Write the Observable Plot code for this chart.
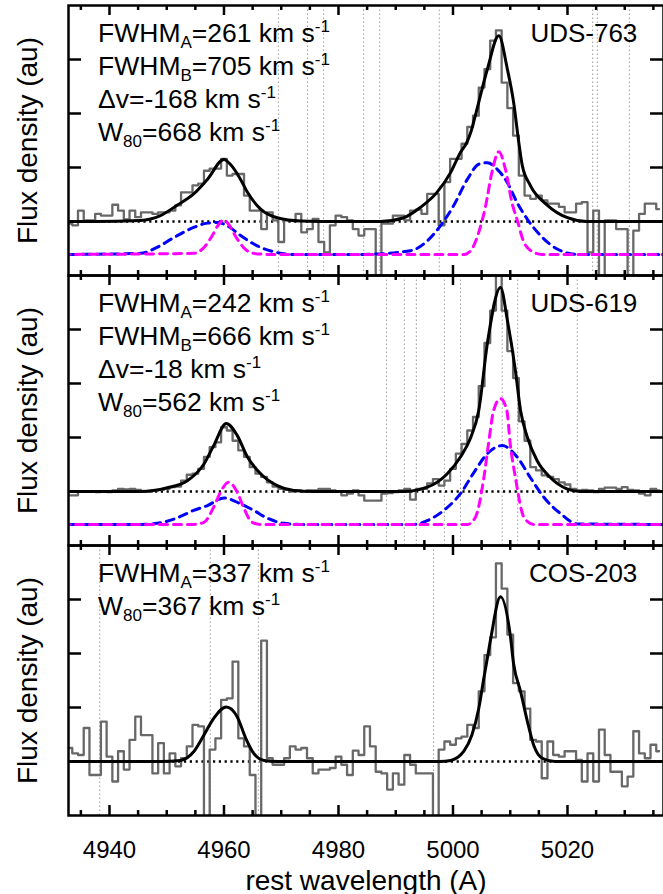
<!DOCTYPE html>
<html><head><meta charset="utf-8">
<script src="https://cdn.jsdelivr.net/npm/d3@7"></script>
<script src="https://cdn.jsdelivr.net/npm/@observablehq/plot@0.6"></script>
<style>body{margin:0;background:#fff}#chart svg{display:block}</style>
</head><body><div id="chart"></div>
<script>
const panels = ["UDS-763", "UDS-619", "COS-203"];

// rest-frame wavelength of spectral bins (Å)
const wave = [4933,4934,4935,4936,4937,4938,4939,4940,4941,4942,4943,4944,4945,4946,4947,4948,4949,4950,4951,4952,4953,4954,4955,4956,4957,4958,4959,4960,4961,4962,4963,4964,4965,4966,4967,4968,4969,4970,4971,4972,4973,4974,4975,4976,4977,4978,4979,4980,4981,4982,4983,4984,4985,4986,4987,4988,4989,4990,4991,4992,4993,4994,4995,4996,4997,4998,4999,5000,5001,5002,5003,5004,5005,5006,5007,5008,5009,5010,5011,5012,5013,5014,5015,5016,5017,5018,5019,5020,5021,5022,5023,5024,5025,5026,5027,5028,5029,5030,5031,5032,5033,5034,5035,5036];

const fluxUDS763 = [-0.04,-0.07,0.20,0.02,0.02,0.14,0.11,0.11,0.31,0.20,0.04,0.20,0.08,0.17,0.17,0.14,0.17,0.17,0.20,0.30,0.54,0.54,0.67,0.70,0.94,0.98,0.98,1.16,0.85,0.88,0.88,0.48,0.20,0.20,-0.14,0.17,0.02,-0.38,0.02,0.02,0.14,-0.20,-0.14,0.05,-0.38,-0.57,-0.07,0.11,0.08,0.02,-0.14,-0.26,-0.14,-0.14,-1.1,-0.04,-0.04,0.11,0.11,0.02,0.20,0.22,0.14,0.51,0.51,-0.07,0.73,1.16,1.16,1.44,1.75,1.96,2.48,2.82,3.35,3.54,2.57,2.10,1.59,0.85,0.48,0.42,0.48,0.39,0.33,0.33,0.27,0.17,0.17,0.33,0.36,-0.57,0.20,-1.1,0.02,0.02,-0.14,-0.14,-1.1,-0.17,0.14,0.33,0.33,0.23];

const fluxUDS619 = [-0.07,-0.07,0,0,0,-0.01,0,-0.01,0.02,0.05,0.04,0.05,0.03,0,0,0.02,0.03,0.05,0.08,0.09,0.20,0.31,0.33,0.42,0.64,0.82,0.91,1.19,1.13,0.94,0.76,0.64,0.45,0.33,0.27,0.17,0.09,0.05,0.03,0,0.02,0,0.02,0.02,0.05,0.05,0.02,0,-0.07,-0.04,0.02,-0.07,-0.17,-0.17,-0.17,-0.04,-0.03,-0.01,0.02,0.05,-0.15,0.05,0.05,0.15,0.23,0.11,0.20,0.42,0.70,0.88,1.13,1.38,1.95,2.75,3.35,4.0,3.35,2.60,2.10,1.30,0.94,0.45,0.39,0.30,0.27,0.23,0.17,0.13,0.05,0.02,0.03,0.02,-0.01,0.05,0.07,0.07,0.05,0.08,0.03,0.02,-0.04,-0.07,0.05,0.02];

const fluxCOS203 = [0.25,0.15,0.12,0.62,-0.25,-0.25,0.74,0.09,-0.37,0.19,-0.15,0.40,0.83,0.49,0.49,-0.22,0.34,-0.22,0.15,-0.09,0.06,0.28,0.68,0.65,-1.2,0.22,0.43,1.14,1.17,1.85,0.43,0.28,-0.25,-1.2,2.24,0.06,-0.06,-0.06,0.06,0.28,0.22,0.25,0.06,-0.22,-0.15,-0.15,-0.12,0.09,-0.06,-0.25,0.20,0.12,0.65,0.28,-0.19,-0.22,-0.52,-0.22,-0.43,0.12,-0.06,-0.22,-0.22,-0.22,-1.2,0.22,0.37,0.31,0.43,0.46,0.68,0.62,1.30,1.97,2.30,3.67,3.20,2.35,1.45,1.30,0.98,0.40,0.37,-0.31,0.37,0.12,0.09,0.19,0.19,0.03,-0.37,0.15,-0.37,0.59,0.12,-0.19,-0.19,-0.46,-0.28,0.56,0.15,0.06,0.31,0.19];

// total fits (black)
const fitWave763 = [4932.84,4937.2,4945.4,4948.9,4951.8,4954.7,4957.1,4960.0,4961.1,4962.9,4964.1,4966.4,4969.3,4973.4,4980,4987.3,4991.4,4994.3,4997.2,4999.6,5001.3,5002.4,5003.1,5003.9,5006.0,5008.0,5009.5,5010.6,5011.5,5012.1,5013.5,5016.5,5020.0,5023.4,5036.77];
const fitFlux763 = [0,0,0.02,0.11,0.30,0.51,0.78,1.15,1.06,0.78,0.54,0.23,0.07,0.01,0,0,0.07,0.26,0.54,0.91,1.28,1.46,1.65,1.96,2.82,3.44,2.82,2.20,1.46,1.04,0.67,0.30,0.07,0,0];
const fitWave619 = [4932.84,4945.4,4950.1,4953.6,4956.5,4958.2,4960.4,4962.3,4964.1,4966.4,4969.3,4972.2,4975.6,4991.4,4995.5,4999.0,5001.3,5003.1,5004.5,5006.0,5008.3,5009.5,5010.9,5011.8,5013.0,5014.7,5017.0,5019.9,5022.3,5036.77];
const fitFlux619 = [0,0,0.07,0.20,0.51,0.85,1.26,1.04,0.64,0.33,0.11,0.02,0,0,0.08,0.33,0.64,1.0,1.5,2.74,3.78,3.17,2.24,1.5,1.0,0.57,0.26,0.05,0,0];
const fitWave203 = [4932.84,4948.9,4952.4,4954.7,4956.5,4958.2,4960.4,4962.3,4963.8,4965.2,4967.0,4969.3,4997.7,4999.6,5001.9,5003.3,5004.5,5005.4,5006.0,5006.6,5008.3,5010.0,5010.6,5011.8,5013.0,5014.1,5015.6,5017.8,5036.77];
const fitFlux203 = [0,0,0.02,0.18,0.49,0.80,1.01,0.83,0.43,0.15,0.02,0,0,0.02,0.19,0.49,0.98,1.55,1.91,2.28,3.05,2.34,1.80,1.30,0.74,0.30,0.06,0,0];

// broad components B (blue, offset below zero)
const broadWave763 = [4932.84,4945.4,4948.3,4951.2,4954.7,4957.1,4958.8,4960.6,4962.9,4965.8,4968.7,4972.2,4983.8,4992.6,4995.5,4997.8,5000.1,5002.5,5004.5,5006.0,5007.7,5009.5,5011.2,5013.0,5015.3,5018.2,5021.7,5036.77];
const broadFlux763 = [-0.61,-0.59,-0.48,-0.30,-0.11,-0.03,-0.02,-0.08,-0.26,-0.45,-0.56,-0.61,-0.61,-0.54,-0.36,-0.08,0.29,0.78,1.06,1.09,0.97,0.72,0.35,0.04,-0.26,-0.51,-0.61,-0.61];
const broadWave619 = [4932.84,4945.4,4948.3,4951.8,4954.7,4957.1,4960.0,4962.9,4965.2,4967.5,4970.4,4973.3,4993.2,4995.5,4998.4,5001.3,5003.7,5006.0,5008.6,5011.2,5013.5,5015.9,5018.8,5021.7,5036.77];
const broadFlux619 = [-0.61,-0.61,-0.59,-0.49,-0.35,-0.26,-0.12,-0.23,-0.35,-0.49,-0.59,-0.61,-0.61,-0.54,-0.35,-0.04,0.36,0.70,0.85,0.64,0.26,-0.11,-0.41,-0.60,-0.61];

// narrow components A (magenta, offset below zero)
const narrowWave763 = [4932.84,4954.7,4956.5,4957.9,4959.1,4960.0,4960.8,4962.0,4963.4,4965.2,4968.1,5002.0,5003.1,5004.5,5005.7,5006.8,5008.0,5009.2,5010.3,5011.3,5012.4,5014.1,5015.5,5036.77];
const narrowFlux763 = [-0.61,-0.59,-0.48,-0.27,-0.05,0.03,-0.05,-0.27,-0.48,-0.59,-0.61,-0.61,-0.54,-0.20,0.29,0.91,1.29,0.95,0.35,0.0,-0.39,-0.57,-0.61,-0.61];
const narrowWave619 = [4932.84,4954.7,4956.5,4958.2,4959.4,4960.8,4962.3,4963.4,4964.9,4966.4,5002.5,5003.9,5005.4,5006.2,5007.1,5008.3,5009.4,5010.0,5010.9,5012.4,5014.1,5036.77];
const narrowFlux619 = [-0.61,-0.61,-0.57,-0.29,-0.01,0.17,-0.01,-0.29,-0.57,-0.61,-0.61,-0.48,0.26,0.88,1.5,1.72,1.5,0.88,0.26,-0.48,-0.61,-0.61];

// sky-line positions (dotted verticals)
const sky763 = [4969.5,4974.6,4977.4,4984.4,4987.2,4997.6,5024.4,5025.2,5030.8];
const sky619 = [4988.4,4991.5,4993.6,4998.5,5001.3,5008.6,5011.3,5021.7];
const sky203 = [4938.3,4957.6,4966.0,4996.6];

const annot763 = ["FWHM_{A}=261 km s^{-1}", "FWHM_{B}=705 km s^{-1}", "Δv=-168 km s^{-1}", "W_{80}=668 km s^{-1}"];
const annot619 = ["FWHM_{A}=242 km s^{-1}", "FWHM_{B}=666 km s^{-1}", "Δv=-18 km s^{-1}", "W_{80}=562 km s^{-1}"];
const annot203 = ["FWHM_{A}=337 km s^{-1}", "W_{80}=367 km s^{-1}"];

const xMajor = [4940, 4960, 4980, 5000, 5020];
const xMinor = [4935,4945,4950,4955,4965,4970,4975,4985,4990,4995,5005,5010,5015,5025,5030,5035];
const yTicks = [0, 1, 2, 3];

// ---- build tables ----
const xDom = [4932.84, 5036.77];
const fluxes = [fluxUDS763, fluxUDS619, fluxCOS203];
const spec = panels.flatMap((p, i) => wave.map((w, j) => ({panel: p, w, f: fluxes[i][j]})));
const pairs = (p, W, F) => W.map((w, j) => ({panel: p, w, f: F[j]}));
const fit = [...pairs("UDS-763", fitWave763, fitFlux763), ...pairs("UDS-619", fitWave619, fitFlux619), ...pairs("COS-203", fitWave203, fitFlux203)];
const broad = [...pairs("UDS-763", broadWave763, broadFlux763), ...pairs("UDS-619", broadWave619, broadFlux619)];
const narrow = [...pairs("UDS-763", narrowWave763, narrowFlux763), ...pairs("UDS-619", narrowWave619, narrowFlux619)];
const sky = [...sky763.map(w => ({panel: "UDS-763", w})), ...sky619.map(w => ({panel: "UDS-619", w})), ...sky203.map(w => ({panel: "COS-203", w}))];
const lineY = [3.316, 2.705, 2.095, 1.485];
const annots = [annot763, annot619, annot203];
const annot = panels.flatMap((p, i) => annots[i].map((t, k) => ({panel: p, t, k})));

const FONT = "'Liberation Sans', Arial, Helvetica, sans-serif";
const tl = 0.185, ts = 0.092, yl = 2.27;

const svg = Plot.plot({
  width: 663, height: 894,
  marginLeft: 68, marginRight: 0, marginTop: 4, marginBottom: 79,
  style: {fontFamily: FONT, fontSize: "25px", color: "black", background: "white", overflow: "visible"},
  x: {domain: xDom, ticks: xMajor, tickFormat: d => String(d), tickSize: 0, tickPadding: 25, label: null},
  y: {domain: [-1, 4], axis: null},
  fy: {domain: panels, padding: 0, axis: null, label: null},
  marks: [
    Plot.ruleX(sky, {x: "w", fy: "panel", y1: -1, y2: 4, stroke: "#9a9a9a", strokeWidth: 1, strokeDasharray: "1.5,2.5"}),
    Plot.ruleY([0], {stroke: "black", strokeWidth: 2.5, strokeDasharray: "2.2,3.6"}),
    Plot.line(spec, {x: "w", y: "f", fy: "panel", curve: "step", stroke: "#686868", strokeWidth: 2.3, clip: true}),
    Plot.line(broad, {x: "w", y: "f", fy: "panel", curve: "monotone-x", stroke: "#0000ff", strokeWidth: 3, strokeDasharray: "8,6", clip: true}),
    Plot.line(narrow, {x: "w", y: "f", fy: "panel", curve: "monotone-x", stroke: "#ff00ff", strokeWidth: 3, strokeDasharray: "8,6", strokeDashoffset: 7, clip: true}),
    Plot.line(fit, {x: "w", y: "f", fy: "panel", curve: "monotone-x", stroke: "black", strokeWidth: 3, clip: true}),
    Plot.frame({stroke: "black", strokeWidth: 2.5}),
    Plot.ruleX(xMajor, {x: d => d, y1: 4, y2: 4 - tl, stroke: "black", strokeWidth: 2.5}),
    Plot.ruleX(xMajor, {x: d => d, y1: -1, y2: -1 + tl, stroke: "black", strokeWidth: 2.5}),
    Plot.ruleX(xMinor, {x: d => d, y1: 4, y2: 4 - ts, stroke: "black", strokeWidth: 2.5}),
    Plot.ruleX(xMinor, {x: d => d, y1: -1, y2: -1 + ts, stroke: "black", strokeWidth: 2.5}),
    Plot.ruleY(yTicks, {y: d => d, x1: xDom[0], x2: xDom[0] + yl, stroke: "black", strokeWidth: 2.5}),
    Plot.ruleY(yTicks, {y: d => d, x1: xDom[1], x2: xDom[1] - yl, stroke: "black", strokeWidth: 2.5}),
    Plot.text(annot, {fy: "panel", x: 4938.0, y: d => lineY[d.k], text: "t", textAnchor: "start", lineAnchor: "bottom", fontSize: 26.5, fill: "black"}),
    Plot.text(panels, {fy: d => d, x: 5032.2, y: lineY[0], text: d => d, textAnchor: "end", lineAnchor: "bottom", fontSize: 26, fill: "black"}),
    Plot.text(panels, {fy: d => d, x: xDom[0], y: 1.5, text: () => "Flux density (au)", rotate: -90, dx: -40, textAnchor: "middle", lineAnchor: "middle", fontSize: 28, fill: "black"}),
    Plot.text(["COS-203"], {fy: d => d, frameAnchor: "bottom", dy: 74, text: () => "rest wavelength (A)", fontSize: 28, fill: "black"})
  ]
});

// x tick labels in the same large type as the rest of the figure
const tickSet = new Set(xMajor.map(String));
svg.querySelectorAll("text").forEach(t => {
  if (tickSet.has(t.textContent.trim())) t.style.fontSize = "24px";
});

// sub/superscripts: _{..} and ^{..}
function richify(root) {
  const NS = "http://www.w3.org/2000/svg";
  root.querySelectorAll("text").forEach(t => {
    const s = t.textContent;
    if (!/[_^]\{/.test(s)) return;
    while (t.firstChild) t.removeChild(t.firstChild);
    const re = /([_^])\{([^}]*)\}/g;
    let last = 0, m, shift = 0;
    const add = (str, kind) => {
      const sp = document.createElementNS(NS, "tspan");
      const target = kind === "_" ? 6 : kind === "^" ? -10 : 0;
      const dy = target - shift; shift = target;
      if (dy) sp.setAttribute("dy", dy);
      if (kind) sp.setAttribute("font-size", 17);
      sp.textContent = str;
      t.appendChild(sp);
    };
    while ((m = re.exec(s))) {
      if (m.index > last) add(s.slice(last, m.index), null);
      add(m[2], m[1]);
      last = re.lastIndex;
    }
    if (last < s.length) add(s.slice(last), null);
  });
}
richify(svg);
document.getElementById("chart").appendChild(svg);
</script>
</body></html>
